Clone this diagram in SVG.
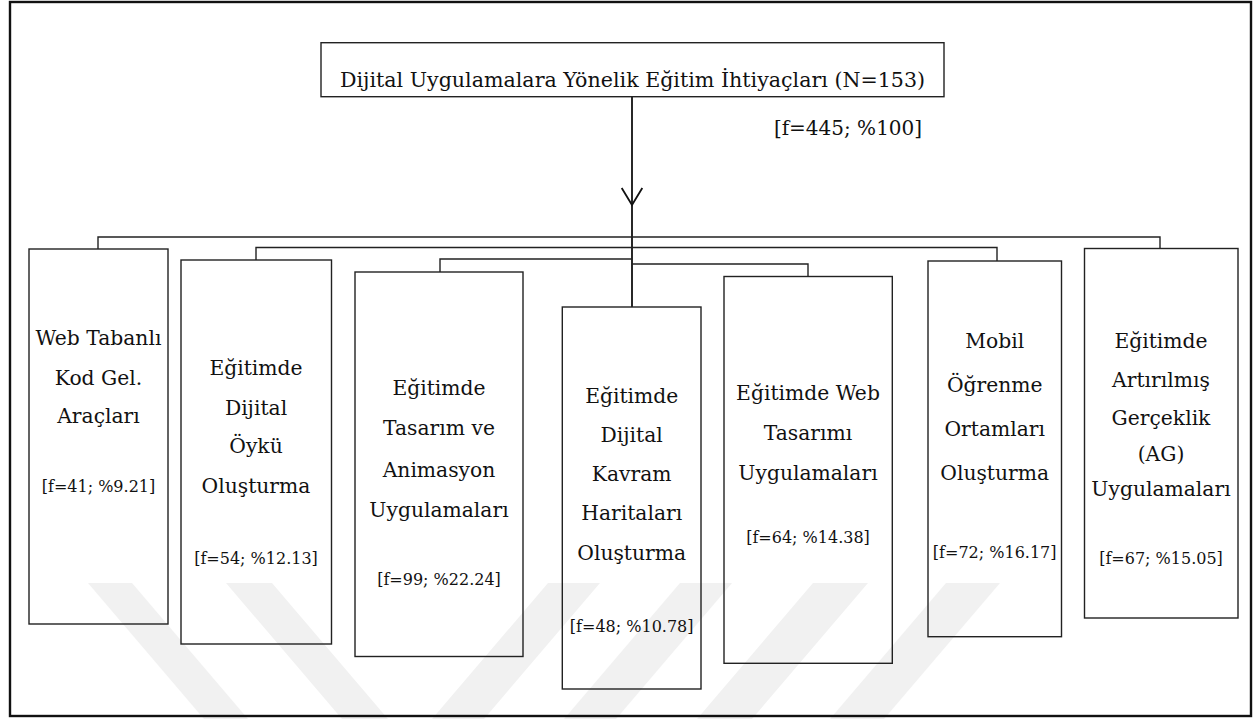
<svg xmlns="http://www.w3.org/2000/svg" width="1260" height="719" viewBox="0 0 1260 719">
<style>
.frame{fill:none;stroke:#111;stroke-width:2.4}
.box{fill:none;stroke:#222;stroke-width:1.4}
.wm{fill:#f1f1f1;stroke:none}
.con{fill:none;stroke:#222;stroke-width:1.4}
.main{fill:none;stroke:#111;stroke-width:1.8}
text{font-family:"DejaVu Serif","Liberation Serif",serif;fill:#111;text-anchor:middle}
.t{font-size:20.3px}
.s{font-size:16px}
.h{font-size:20.6px}
.p{font-size:20px}
</style>
<rect width="1260" height="719" fill="#fff"/>
<g id="watermark">
<polygon class="wm" points="88,583 132,583 248,719 204,719"/>
<polygon class="wm" points="226,583 272,583 388,719 342,719"/>
<polygon class="wm" points="548,583 600,583 484,719 432,719"/>
<polygon class="wm" points="680,583 732,583 616,719 564,719"/>
<polygon class="wm" points="813,583 868,583 752,719 697,719"/>
<polygon class="wm" points="946,583 1000,583 884,719 830,719"/>
</g>
<rect class="frame" x="10" y="2" width="1241" height="714"/>
<g id="connectors">
<path class="main" d="M632 97 V307"/>
<polyline class="main" points="621.7,188 632,205 642.3,188"/>
<path class="con" d="M98 249 V237 H1160 V248"/>
<path class="con" d="M256 260 V247.5 H997 V261"/>
<path class="con" d="M440 272 V259 H632"/>
<path class="con" d="M632 264 H808 V276"/>
</g>
<g id="root">
<rect class="box" x="321" y="42.7" width="623" height="54"/>
<text class="h" x="632.5" y="87.3">Dijital Uygulamalara Yönelik Eğitim İhtiyaçları (N=153)</text>
<text class="p" x="848" y="135">[f=445; %100]</text>
</g>
<g id="n1">
<rect class="box" x="29" y="249" width="139" height="375"/>
<text class="t" x="98.5" y="345">Web Tabanlı</text>
<text class="t" x="98.5" y="385">Kod Gel.</text>
<text class="t" x="98.5" y="423">Araçları</text>
<text class="s" x="98.5" y="491.5">[f=41; %9.21]</text>
</g>
<g id="n2">
<rect class="box" x="181" y="260" width="150.5" height="384"/>
<text class="t" x="256" y="375">Eğitimde</text>
<text class="t" x="256" y="415">Dijital</text>
<text class="t" x="256" y="453">Öykü</text>
<text class="t" x="256" y="493">Oluşturma</text>
<text class="s" x="256" y="564">[f=54; %12.13]</text>
</g>
<g id="n3">
<rect class="box" x="355" y="272" width="168" height="384.5"/>
<text class="t" x="439" y="395">Eğitimde</text>
<text class="t" x="439" y="435">Tasarım ve</text>
<text class="t" x="439" y="476.5">Animasyon</text>
<text class="t" x="439" y="516.5">Uygulamaları</text>
<text class="s" x="439" y="585">[f=99; %22.24]</text>
</g>
<g id="n4">
<rect class="box" x="562.3" y="307" width="138.7" height="382"/>
<text class="t" x="631.7" y="402.7">Eğitimde</text>
<text class="t" x="631.7" y="441.7">Dijital</text>
<text class="t" x="631.7" y="480.5">Kavram</text>
<text class="t" x="631.7" y="520">Haritaları</text>
<text class="t" x="631.7" y="560">Oluşturma</text>
<text class="s" x="631.7" y="631.5">[f=48; %10.78]</text>
</g>
<g id="n5">
<rect class="box" x="724" y="276.5" width="168.3" height="386.8"/>
<text class="t" x="808" y="400">Eğitimde Web</text>
<text class="t" x="808" y="440">Tasarımı</text>
<text class="t" x="808" y="480">Uygulamaları</text>
<text class="s" x="808" y="542.7">[f=64; %14.38]</text>
</g>
<g id="n6">
<rect class="box" x="928" y="261" width="133.5" height="375.7"/>
<text class="t" x="994.7" y="348">Mobil</text>
<text class="t" x="994.7" y="391.7">Öğrenme</text>
<text class="t" x="994.7" y="436">Ortamları</text>
<text class="t" x="994.7" y="480">Oluşturma</text>
<text class="s" x="994.7" y="558">[f=72; %16.17]</text>
</g>
<g id="n7">
<rect class="box" x="1084.5" y="248.5" width="153.5" height="369.5"/>
<text class="t" x="1161" y="348">Eğitimde</text>
<text class="t" x="1161" y="386.5">Artırılmış</text>
<text class="t" x="1161" y="425">Gerçeklik</text>
<text class="t" x="1161" y="461">(AG)</text>
<text class="t" x="1161" y="496">Uygulamaları</text>
<text class="s" x="1161" y="564">[f=67; %15.05]</text>
</g>
</svg>
